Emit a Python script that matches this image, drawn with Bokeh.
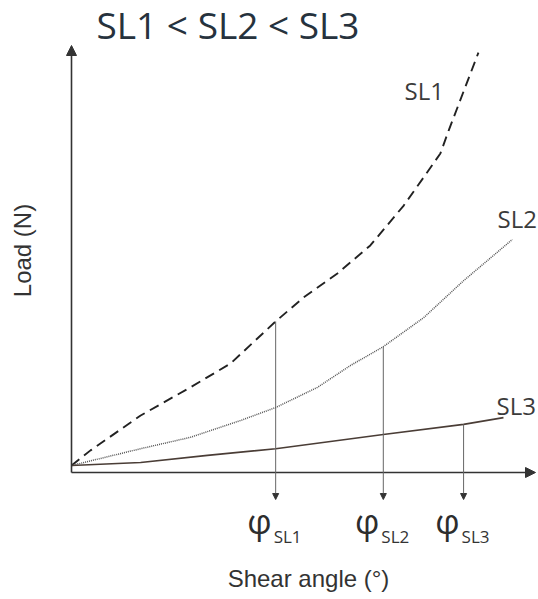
import numpy as np
from bokeh.plotting import figure
from bokeh.models import Range1d, Label, Arrow, NormalHead, ColumnDataSource
from bokeh.embed import file_html
from bokeh.resources import INLINE

# ---------------- data (arbitrary units: shear angle 0-100, load 0-100) ----------------
sl1_x = [0, 4.1, 14.9, 25.6, 34.3, 44.0, 50.0, 57.3, 64.4, 71.6, 75.9, 79.5, 81.3, 87.7]
sl1_y = [0, 3.6, 11.9, 18.6, 24.3, 34.3, 40.0, 45.7, 52.4, 61.9, 68.6, 74.3, 79.8, 98.3]

sl2_x = [0, 14.9, 25.6, 36.4, 44.0, 53.0, 60.1, 67.2, 75.9, 84.5, 95.0]
sl2_y = [0, 4.0, 6.7, 10.7, 13.8, 18.6, 23.8, 28.3, 35.2, 44.0, 53.8]

sl3_x = [0, 14.9, 29.3, 44.0, 67.2, 84.5, 93.1]
sl3_y = [0, 0.7, 2.4, 4.0, 7.4, 9.8, 11.4]

series_names = ["SL1", "SL2", "SL3"]
phi_x = [44.0, 67.2, 84.5]          # shear angle at which each load level is read
title_text = "SL1 < SL2 < SL3"
x_title = "Shear angle (°)"
y_title = "Load (N)"

# ---------------- layout helpers (page pixel -> data) ----------------
W, H = 538, 599
MARGIN = 0
X0_PX, X_SCALE = 71, 4.64
Y0_PX, Y_SCALE = 465, 4.2
BASE_SHIFT = 0.42   # empirical correction for alphabetic baseline placement


def dx(px):
    return (px - X0_PX) / X_SCALE


def dy(py):
    return (Y0_PX - py) / Y_SCALE


def by(py, fs):
    """data y for a text whose baseline should sit at page pixel py"""
    return dy(py - BASE_SHIFT * fs)


p = figure(width=W, height=H,
           x_range=Range1d(dx(MARGIN), dx(MARGIN + W)),
           y_range=Range1d(dy(MARGIN + H), dy(MARGIN)),
           x_axis_location=None, y_axis_location=None,
           toolbar_location=None, output_backend="svg",
           min_border=0, background_fill_color="white",
           border_fill_color="white")
p.outline_line_color = None
p.grid.visible = False

AXIS_C = "#333333"
axis_y = dy(472)

# axes with arrows
p.add_layout(Arrow(x_start=0, y_start=axis_y, x_end=0, y_end=100,
                   line_color=AXIS_C, line_width=1.6,
                   end=NormalHead(size=10, fill_color=AXIS_C, line_color=AXIS_C)))
p.add_layout(Arrow(x_start=0, y_start=axis_y, x_end=100, y_end=axis_y,
                   line_color=AXIS_C, line_width=1.6,
                   end=NormalHead(size=10, fill_color=AXIS_C, line_color=AXIS_C)))

# curves
p.line(sl1_x, sl1_y, line_color="#222222", line_width=1.9, line_dash="10 6")
p.line(sl2_x, sl2_y, line_color="#555555", line_width=1.5, line_dash="1 1")
p.line(sl3_x, sl3_y, line_color="#4a3d36", line_width=1.6)

# drop arrows from curves to phi labels
curves = [(sl1_x, sl1_y), (sl2_x, sl2_y), (sl3_x, sl3_y)]
phi_load = [float(np.interp(xv, cx, cy)) for xv, (cx, cy) in zip(phi_x, curves)]
src = ColumnDataSource(dict(x0=phi_x, y0=phi_load, x1=phi_x,
                            y1=[dy(499)] * len(phi_x)))
p.add_layout(Arrow(source=src, x_start="x0", y_start="y0", x_end="x1", y_end="y1",
                   line_color="#666666", line_width=1,
                   end=NormalHead(size=6, fill_color="#333333", line_color="#333333")))

# phi labels
for xv, name in zip(phi_x, series_names):
    p.add_layout(Label(x=xv, y=by(535, 34), x_offset=-4, text="φ",
                       text_font="Open Sans", text_font_size="34px",
                       text_color="#2d2d2d", text_align="right",
                       text_baseline="alphabetic"))
    p.add_layout(Label(x=xv, y=by(543, 17), x_offset=-2, text=name,
                       text_font="Open Sans", text_font_size="17px",
                       text_color="#333333", text_align="left",
                       text_baseline="alphabetic"))

# curve labels
curve_label_pos = [(404, 100), (497, 228), (496, 415)]
for (lx, ly), name in zip(curve_label_pos, series_names):
    p.add_layout(Label(x=dx(lx), y=by(ly, 24), text=name,
                       text_font="Open Sans", text_font_size="24px",
                       text_color="#3b3b3b", text_align="left",
                       text_baseline="alphabetic"))

# title
p.add_layout(Label(x=dx(96), y=by(40, 37), text=title_text,
                   text_font="Open Sans", text_font_size="37px",
                   text_color="#26323d", text_align="left",
                   text_baseline="alphabetic"))

# axis titles
p.add_layout(Label(x=dx(308), y=by(588, 24), text=x_title,
                   text_font="Liberation Sans", text_font_size="24px",
                   text_color="#333333", text_align="center",
                   text_baseline="alphabetic"))
p.add_layout(Label(x=dx(22), y=dy(250), text=y_title, angle=np.pi / 2,
                   text_font="Liberation Sans", text_font_size="24px",
                   text_color="#333333", text_align="center",
                   text_baseline="middle"))

open("out.html", "w").write(file_html(p, INLINE))
